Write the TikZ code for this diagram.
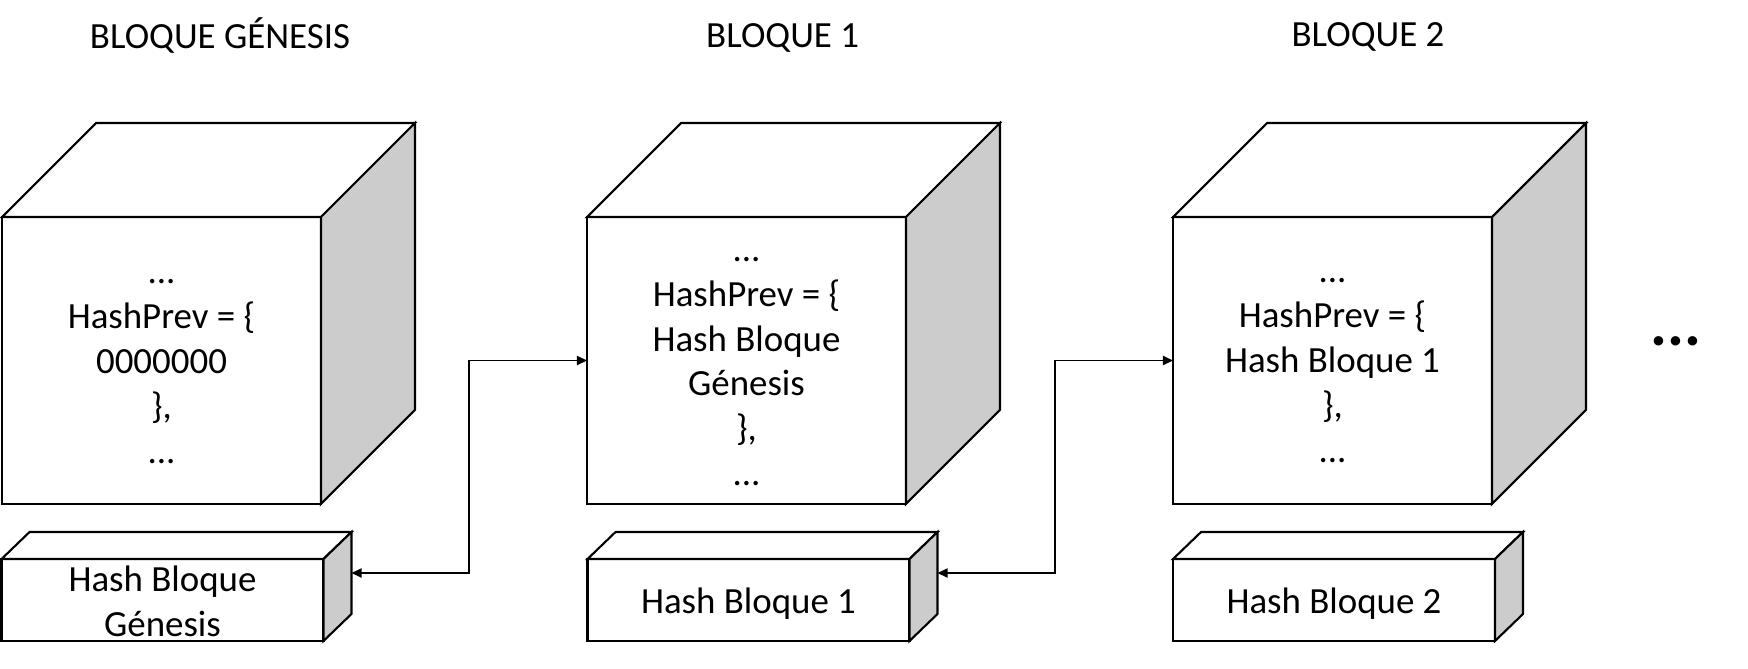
\documentclass[tikz,border=0pt]{standalone}
\usepackage{fontspec}
\setmainfont{Carlito}
\usetikzlibrary{calc,arrows.meta}
\definecolor{sidegray}{HTML}{CCCCCC}
\begin{document}
\begin{tikzpicture}[x=0.02cm,y=-0.02cm,
  face/.style={draw=black, line width=1.2pt, line join=miter},
  txt/.style={font=\fontsize{21}{25.5}\selectfont, align=center},
  front/.style={face, fill=white, minimum width=6.38cm, minimum height=5.74cm, inner sep=0pt, outer sep=0pt},
  hashbox/.style={face, fill=white, minimum width=6.44cm, minimum height=1.64cm, inner sep=0pt, outer sep=0pt},
  side/.style={face, fill=sidegray},
  top/.style={face, fill=white},
  title/.style={font=\fontsize{21}{25.5}\selectfont},
  conn/.style={line width=1pt, {Triangle[length=5.8pt,width=5.2pt]}-{Triangle[length=5.8pt,width=5.2pt]}}
]
\useasboundingbox (0,0) rectangle (1748,669);

% titles
\node[title] (tg) at (220,36) {BLOQUE GÉNESIS};
\node[title] (t1) at (782.6,38) {BLOQUE 1};
\node[title] (t2) at (1368,37) {BLOQUE 2};

% cubes
\foreach \n/\x in {g/161.5, b1/746.5, b2/1332.5}{
  \node[front] (\n) at (\x,360.5) {};
  \draw[top] (\n.north west) -- ++(94,-94) -- ($(\n.north east)+(94,-94)$) -- (\n.north east) -- cycle;
  \draw[side] (\n.north east) -- ++(94,-94) -- ($(\n.south east)+(94,-94)$) -- (\n.south east) -- cycle;
}
\node[txt] (gt) at ($(g)+(0,11)$) {...\\HashPrev = \{\\0000000\\\},\\...};
\node[txt] (b1t) at ($(b1)+(0,11)$) {...\\HashPrev = \{\\Hash Bloque\\Génesis\\\},\\...};
\node[txt] (b2t) at ($(b2)+(0,10)$) {...\\HashPrev = \{\\Hash Bloque 1\\\},\\...};

% hash boxes
\foreach \n/\x in {hg/162.5, h1/748.5, h2/1334}{
  \node[hashbox] (\n) at (\x,600) {};
  \draw[top] (\n.north west) -- ++(28,-27) -- ($(\n.north east)+(28,-27)$) -- (\n.north east) -- cycle;
  \draw[side] (\n.north east) -- ++(28,-27) -- ($(\n.south east)+(28,-27)$) -- (\n.south east) -- cycle;
}
\node[txt] (hgt) at ($(hg)+(0,1)$) {Hash Bloque\\Génesis};
\node[txt] (h1t) at ($(h1)+(0,4)$) {Hash Bloque 1};
\node[txt] (h2t) at ($(h2)+(0,4)$) {Hash Bloque 2};
\coordinate (hga) at ($(hg.east)+(28,-27)$);
\coordinate (h1a) at ($(h1.east)+(28,-27)$);

% connectors
\draw[conn] (hga) -| ($(hga)!0.5!(b1.west)$) |- (b1.west);
\draw[conn] (h1a) -| ($(h1a)!0.5!(b2.west)$) |- (b2.west);

% continuation
\node[font=\fontsize{36}{36}\selectfont\bfseries] (more) at (1676,341) {...};
\end{tikzpicture}
\end{document}
